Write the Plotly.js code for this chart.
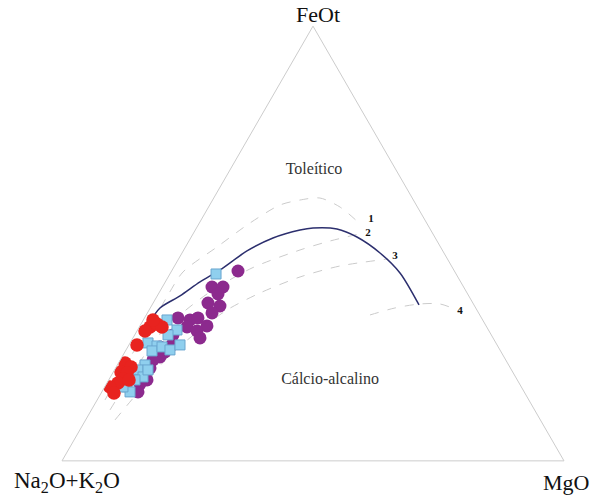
<!DOCTYPE html>
<html>
<head>
<meta charset="utf-8">
<script src="https://cdn.plot.ly/plotly-3.0.1.min.js"></script>
<style>html,body{margin:0;padding:0;background:#fff;}#chart{width:593px;height:495px;}</style>
</head>
<body>
<div id="chart"></div>
<script>
// Ternary values in percent: a = FeOt, b = Na2O+K2O, c = MgO
// Irvine & Baragar boundary (solid)
const bound_a = [31.95, 35.17, 37.93, 41.15, 43.91, 48.28, 51.26, 53.10, 53.56, 53.33, 51.49, 47.82, 43.22, 35.86];
const bound_c = [1.55, 1.93, 4.54, 6.92, 9.52, 12.71, 16.40, 20.86, 23.22, 28.11, 33.01, 39.44, 45.72, 53.19];

// Dashed reference curves 1-4
const c1_a = [14.02, 22.07, 30.11, 38.16, 43.45, 49.20, 54.71, 58.85, 60.00, 60.46, 58.39, 54.94];
const c1_c = [1.56, 1.52, 2.07, 2.04, 2.38, 6.28, 10.09, 14.00, 17.41, 21.16, 26.18, 31.49];
const c2_a = [11.72, 19.08, 27.82, 33.56, 38.85, 44.37, 48.51, 50.57, 52.41];
const c2_c = [3.70, 4.01, 4.62, 6.73, 10.05, 15.67, 23.16, 28.10, 33.75];
const c3_a = [9.43, 16.32, 24.37, 30.11, 34.71, 38.62, 42.30, 44.83, 46.44];
const c3_c = [5.85, 7.38, 9.33, 12.43, 15.51, 20.13, 26.26, 32.97, 41.72];
const c4_a = [33.56, 35.17, 36.09, 36.09, 34.71];
const c4_c = [44.57, 48.74, 53.26, 57.25, 61.33];

const curveLabels = ['1', '2', '3', '4'];
const lab_a = [55.63, 52.41, 47.13, 34.48];
const lab_c = [33.74, 34.75, 42.77, 62.04];

const fieldLabels = ['Toleítico', 'Cálcio-alcalino'];
const field_a = [66.9, 18.62];
const field_c = [16.75, 44.08];

// Samples
const purple_a = [43.68, 40.00, 40.00, 38.39, 36.32, 35.63, 34.02, 32.87, 32.41, 32.87, 30.80, 31.03, 29.89, 28.28, 28.97, 26.67, 23.91, 23.22, 21.38, 18.62, 17.70, 26.21, 15.86, 25.06];
const purple_c = [13.22, 9.88, 12.07, 11.88, 10.92, 13.65, 12.87, 6.67, 9.29, 10.65, 9.50, 13.36, 11.94, 13.35, 7.62, 8.57, 7.56, 6.52, 6.84, 7.62, 6.69, 6.42, 7.21, 7.99];

const blue_a = [42.99, 32.41, 30.11, 28.97, 27.13, 26.44, 25.29, 26.21, 25.52, 26.67, 22.07, 20.92, 19.31, 20.92, 17.01, 15.86, 17.01, 18.62];
const blue_c = [9.19, 4.71, 7.85, 6.63, 3.57, 5.70, 5.29, 6.82, 8.75, 10.17, 5.50, 4.68, 6.48, 6.67, 4.44, 5.62, 3.64, 5.23];

const red_a = [30.80, 31.49, 29.89, 30.80, 32.41, 26.67, 22.53, 21.61, 20.46, 20.23, 18.85, 17.93, 17.01, 15.63, 18.62];
const red_c = [2.13, 3.17, 1.59, 4.52, 1.92, 1.60, 1.29, 2.95, 1.52, 2.84, 2.72, 2.19, 1.05, 2.54, 4.04];

const bOf = (a, c) => a.map((v, i) => +(100 - v - c[i]).toFixed(2));

const serif = 'Liberation Serif';

function line(a, c, color, width, dash) {
  return {type: 'scatterternary', mode: 'lines', a: a, b: bOf(a, c), c: c,
    line: {color: color, width: width, dash: dash, shape: 'spline', smoothing: 0.8}, hoverinfo: 'skip'};
}

const traces = [
  line(c1_a, c1_c, '#cbcbcb', 1, 'dash'),
  line(c2_a, c2_c, '#cbcbcb', 1, 'dash'),
  line(c3_a, c3_c, '#cbcbcb', 1, 'dash'),
  line(c4_a, c4_c, '#cbcbcb', 1, 'dash'),
  line(bound_a, bound_c, '#2c2f6e', 1.5, 'solid'),
  {type: 'scatterternary', mode: 'markers', a: purple_a, b: bOf(purple_a, purple_c), c: purple_c,
    marker: {symbol: 'circle', size: 13, color: '#8c2a8e', line: {width: 0}}},
  {type: 'scatterternary', mode: 'markers', a: blue_a, b: bOf(blue_a, blue_c), c: blue_c,
    marker: {symbol: 'square', size: 10, color: '#8fcfee', line: {width: 1, color: '#6aa6cf'}}},
  {type: 'scatterternary', mode: 'markers', a: red_a, b: bOf(red_a, red_c), c: red_c,
    marker: {symbol: 'circle', size: 13.5, color: '#e8231f', line: {width: 0}}},
  {type: 'scatterternary', mode: 'text', a: lab_a, b: bOf(lab_a, lab_c), c: lab_c,
    text: curveLabels, textposition: 'middle center',
    textfont: {family: serif, size: 11, color: '#111', weight: 'bold'}},
  {type: 'scatterternary', mode: 'text', a: field_a, b: bOf(field_a, field_c), c: field_c,
    text: fieldLabels, textposition: 'middle center',
    textfont: {family: serif, size: 16, color: '#333'}}
];

const axisStyle = {
  showline: true, linecolor: '#cccccc', linewidth: 1,
  showgrid: false, showticklabels: false, ticks: '', title: {text: ''}
};

const layout = {
  width: 593, height: 495,
  margin: {l: 62, r: 29, t: 26, b: 34},
  paper_bgcolor: '#ffffff',
  showlegend: false,
  font: {family: serif},
  ternary: {
    sum: 100,
    bgcolor: '#ffffff',
    domain: {x: [0, 1], y: [0, 1]},
    aaxis: axisStyle, baxis: axisStyle, caxis: axisStyle
  },
  annotations: [
    {text: 'FeOt', xref: 'paper', yref: 'paper', x: 0.51, y: 1.027, xanchor: 'center', yanchor: 'middle',
      showarrow: false, font: {family: serif, size: 22, color: '#111'}},
    {text: 'Na<sub>2</sub>O+K<sub>2</sub>O', xref: 'paper', yref: 'paper', x: 0.01, y: -0.048,
      xanchor: 'center', yanchor: 'middle', showarrow: false, font: {family: serif, size: 23, color: '#111'}},
    {text: 'MgO', xref: 'paper', yref: 'paper', x: 1.054, y: -0.05, xanchor: 'right', yanchor: 'middle',
      showarrow: false, font: {family: serif, size: 22, color: '#111'}}
  ]
};

Plotly.newPlot('chart', traces, layout, {displayModeBar: false, staticPlot: true});
</script>
</body>
</html>
